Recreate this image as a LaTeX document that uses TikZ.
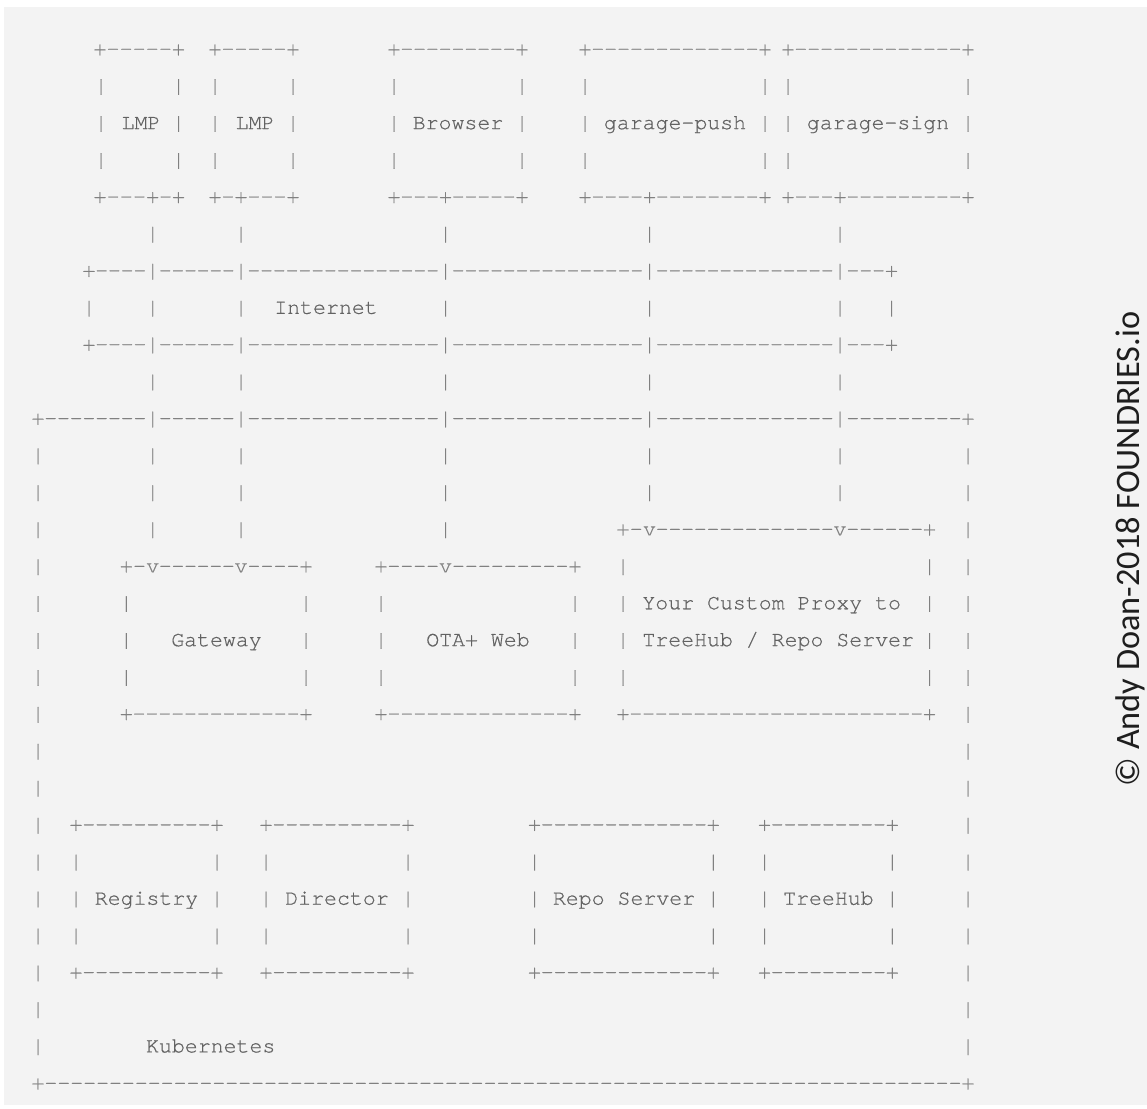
\documentclass[tikz,border=0pt]{standalone}
\usepackage{fontspec}
\newfontfamily\curfont{TeX Gyre Cursor}[FakeBold=0.5]
\newfontfamily\carlitofont{Carlito}
\definecolor{bgc}{HTML}{F3F3F3}
\definecolor{ascii}{HTML}{808080}
\definecolor{labelc}{HTML}{626262}
\definecolor{copyc}{HTML}{1E1E1E}
\newcommand\asciifont{\curfont\fontsize{21.55}{24}\selectfont}
\tikzset{
  gl/.style={anchor=base, inner sep=0pt, outer sep=0pt, text=ascii, font=\asciifont},
  lbl/.style={anchor=base, inner sep=0pt, outer sep=0pt, text=labelc, font=\asciifont},
  lblw/.style={anchor=base west, inner sep=0pt, outer sep=0pt, text=labelc, font=\asciifont}
}
% row baseline
\newcommand\Y[1]{{55.3+36.93*(#1-1)}}
\def\none{none}
% dashes between two x positions on a row
\newcommand\dsh[3]{%
  \pgfmathtruncatemacro\nd{round((#3-#2)/12.93)-1}%
  \pgfmathsetmacro\stp{(#3-#2)/(\nd+1)}%
  \foreach \i in {1,...,\nd}{\node[gl] at ({#2+\stp*\i},\Y{#1}) {-};}%
}
% a horizontal run: characters at positions, dashes between
\newcommand\hrun[2]{%
  \foreach \x/\c [remember=\x as \px (initially none)] in {#2}{%
    \node[gl] at (\x,\Y{#1}) {\c};%
    \ifx\px\none\else\dsh{#1}{\px}{\x}\fi
  }%
}
\newcommand\bars[2]{\foreach \x in {#2}{\node[gl] at (\x,\Y{#1}) {|};}}
\def\ca{152.7}\def\cb{241}\def\cc{445.5}\def\cd{649.5}\def\ce{840}
\begin{document}
\begin{tikzpicture}[x=1pt,y=-1pt]
\useasboundingbox (0,0) rectangle (1147,1108);
\fill[white] (0,0) rectangle (1147,1108);
\fill[bgc] (4,7) rectangle (1147,1105);
% ---- top boxes
\hrun{1}{100/+,178.5/+}\hrun{1}{215/+,293/+}\hrun{1}{394/+,522/+}\hrun{1}{585/+,765/+}\hrun{1}{788/+,968/+}
\foreach \r in {2,3,4}{\bars{\r}{101,178.5,215,293,394,522,585,765,788,968}}
\node[lbl] (lmp1) at (141,\Y{3}) {LMP};
\node[lbl] (lmp2) at (255,\Y{3}) {LMP};
\node[lbl] (browser) at (458,\Y{3}) {Browser};
\node[lbl] (gpush) at (675,\Y{3}) {garage-push};
\node[lbl] (gsign) at (878,\Y{3}) {garage-sign};
\hrun{5}{100/+,\ca/+,178.5/+}\hrun{5}{215/+,\cb/+,293/+}\hrun{5}{394/+,\cc/+,522/+}
\hrun{5}{585/+,\cd/+,765/+}\hrun{5}{788/+,\ce/+,968/+}
% ---- internet
\bars{6}{\ca,\cb,\cc,\cd,\ce}
\hrun{7}{89/+,\ca/|,\cb/|,\cc/|,\cd/|,\ce/|,891.5/+}
\bars{8}{89,\ca,\cb,\cc,\cd,\ce,891.5}
\node[lbl] (internet) at (326,\Y{8}) {Internet};
\hrun{9}{89/+,\ca/|,\cb/|,\cc/|,\cd/|,\ce/|,891.5/+}
\bars{10}{\ca,\cb,\cc,\cd,\ce}
% ---- kubernetes frame
\hrun{11}{38/+,\ca/|,\cb/|,\cc/|,\cd/|,\ce/|,968/+}
\bars{12}{38,\ca,\cb,\cc,\cd,\ce,968}
\bars{13}{38,\ca,\cb,\cc,\cd,\ce,968}
\bars{14}{38,\ca,\cb,\cc,968}
\hrun{14}{623/+,\cd/v,\ce/v,929.5/+}
\bars{15}{38,623,929.5,968}
\hrun{15}{126.3/+,\ca/v,\cb/v,306/+}
\hrun{15}{381/+,\cc/v,575/+}
\foreach \r in {16,17,18}{\bars{\r}{38,126.3,306,381,575,623,929.5,968}}
\node[lblw] (proxy1) at (642.4,\Y{16}) {Your Custom Proxy to};
\node[lblw] (proxy2) at (642.4,\Y{17}) {TreeHub / Repo Server};
\node[lbl] (gateway) at (216.5,\Y{17}) {Gateway};
\node[lbl] (otaweb) at (478,\Y{17}) {OTA+ Web};
\bars{19}{38,968}
\hrun{19}{126.3/+,306/+}\hrun{19}{381/+,575/+}\hrun{19}{623/+,929.5/+}
\bars{20}{38,968}
\bars{21}{38,968}
% ---- services
\bars{22}{38,968}
\hrun{22}{76/+,217/+}\hrun{22}{266/+,408/+}\hrun{22}{534.5/+,713.3/+}\hrun{22}{764.5/+,892.3/+}
\foreach \r in {23,24,25}{\bars{\r}{38,76,217,266,408,534.5,713.3,764.5,892.3,968}}
\node[lbl] (registry) at (146.5,\Y{24}) {Registry};
\node[lbl] (director) at (337,\Y{24}) {Director};
\node[lbl] (reposerver) at (624,\Y{24}) {Repo Server};
\node[lbl] (treehub) at (828.4,\Y{24}) {TreeHub};
\bars{26}{38,968}
\hrun{26}{76/+,217/+}\hrun{26}{266/+,408/+}\hrun{26}{534.5/+,713.3/+}\hrun{26}{764.5/+,892.3/+}
\bars{27}{38,968}
\bars{28}{38,968}
\node[lbl] (kubernetes) at (210.7,\Y{28}) {Kubernetes};
\hrun{29}{38/+,968/+}
% ---- copyright
\node[rotate=90, inner sep=0pt, text=copyc, font={\carlitofont\fontsize{34.3}{36}\selectfont}] (copyright) at (1130,549) {© Andy Doan-2018 FOUNDRIES.io};
\end{tikzpicture}
\end{document}
